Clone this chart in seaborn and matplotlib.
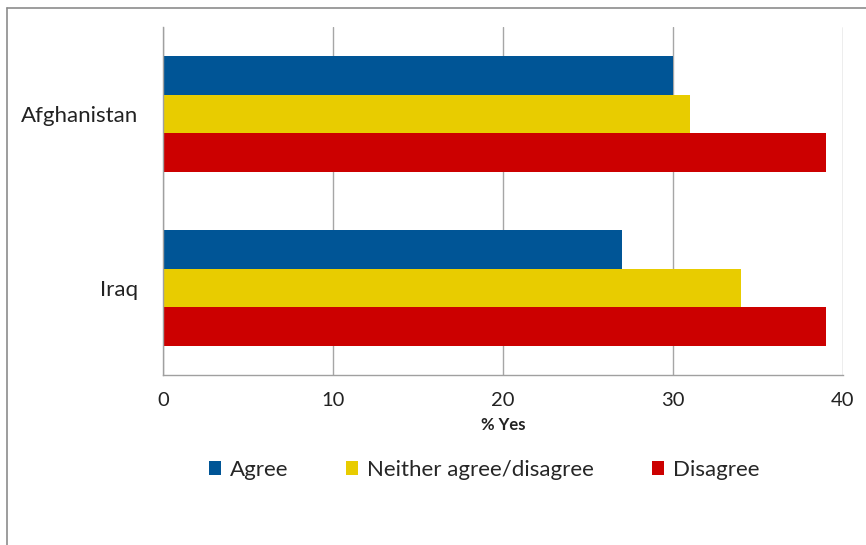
import matplotlib
matplotlib.use("Agg")
import matplotlib.pyplot as plt
import seaborn as sns
import pandas as pd
from matplotlib.lines import Line2D
from matplotlib.patches import Patch

countries = ["Afghanistan", "Iraq"]
responses = ["Agree", "Neither agree/disagree", "Disagree"]
agree = [30, 27]
neither = [31, 34]
disagree = [39, 39]
colors = ["#005596", "#E8CC00", "#CC0000"]
x_ticks = [0, 10, 20, 30, 40]

rows = []
for i, c in enumerate(countries):
    for r, vals in zip(responses, [agree, neither, disagree]):
        rows.append({"country": c, "response": r, "value": vals[i]})
df = pd.DataFrame(rows)

sns.set_style("white")
plt.rcParams["font.family"] = ["Lato", "DejaVu Sans"]

fig = plt.figure(figsize=(8.66, 5.45), dpi=100)
ax = fig.add_axes([163/866, 1-375/545, (843-163)/866, (375-27)/545])

sns.barplot(data=df, y="country", x="value", hue="response", order=countries,
            hue_order=responses, palette=colors, orient="h", width=0.665,
            saturation=1, linewidth=0, ax=ax, legend=False)

ax.set_xlim(0, 40)
ax.set_ylim(1.5, -0.5)
ax.set_xticks(x_ticks)
ax.set_xticklabels([str(t) for t in x_ticks], fontsize=14.5, color="#222222")
ax.tick_params(axis="x", direction="out", length=5, width=1, color="#a0a0a0", pad=7)

ax.set_yticks([-0.5, 0.5, 1.5])
ax.set_yticklabels([])
ax.tick_params(axis="y", which="major", direction="out", length=5, width=1, color="#a0a0a0")
ax.set_yticks([0, 1], minor=True)
ax.set_yticklabels(countries, minor=True, fontsize=16, color="#222222")
ax.tick_params(axis="y", which="minor", length=0, pad=18)

ax.xaxis.grid(True, color="#a6a6a6", linewidth=1)
ax.yaxis.grid(False)
ax.set_axisbelow(True)
for s in ["top", "right"]:
    ax.spines[s].set_visible(False)
for s in ["left", "bottom"]:
    ax.spines[s].set_color("#a0a0a0")
    ax.spines[s].set_linewidth(1)

ax.set_ylabel("")
ax.set_xlabel("% Yes", fontsize=12, fontweight="bold", color="#222222", labelpad=6)

handles = [Patch(facecolor=c, edgecolor="none") for c in colors]
fig.legend(handles, responses, loc="center", bbox_to_anchor=(484/866, 1-470/545),
           ncol=3, frameon=False, fontsize=16, handlelength=0.55, handleheight=0.55,
           handletextpad=0.4, columnspacing=2.6)

# outer chart frame (top and left edges visible)
fig.add_artist(Line2D([7/866, 1], [1-8/545, 1-8/545], transform=fig.transFigure,
                      color="#8c8c8c", linewidth=1.2))
fig.add_artist(Line2D([7/866, 7/866], [0, 1-8/545], transform=fig.transFigure,
                      color="#8c8c8c", linewidth=1.2))

fig.savefig("out.png", dpi=100)
